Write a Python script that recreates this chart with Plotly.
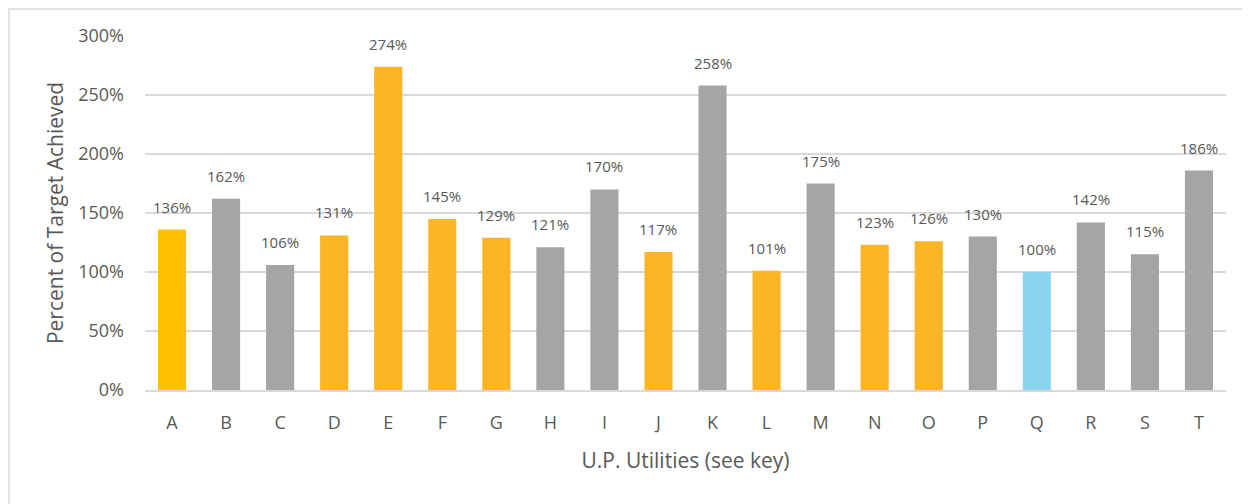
import plotly.graph_objects as go

categories = list("ABCDEFGHIJKLMNOPQRST")
values = [136, 162, 106, 131, 274, 145, 129, 121, 170, 117, 258, 101, 175, 123, 126, 130, 100, 142, 115, 186]
bar_colors = ["#FFC000", "#A5A5A5", "#A5A5A5", "#FDB525", "#FDB525", "#FDB525", "#FDB525",
              "#A5A5A5", "#A5A5A5", "#FDB525", "#A5A5A5", "#FDB525", "#A5A5A5", "#FDB525",
              "#FDB525", "#A5A5A5", "#89D4EE", "#A5A5A5", "#A5A5A5", "#A5A5A5"]
y_ticks = [0, 50, 100, 150, 200, 250, 300]
y_tick_labels = [f"{t}%" for t in y_ticks]
labels = [f"{v}%" for v in values]

FONT = "'Open Sans', sans-serif"
TXT = "#595959"

W, H = 1242, 496  # page has an 8px body margin
L, T = 137, 28
R = W - (1226 - 8)
B = H - (390 - 8)
pw, ph = W - L - R, H - T - B

fig = go.Figure()
fig.add_trace(go.Bar(x=categories, y=values, marker=dict(color=bar_colors, line=dict(width=0)),
                     width=0.52, hoverinfo="x+y"))

for c, v, l in zip(categories, values, labels):
    fig.add_annotation(x=c, y=v, text=l, showarrow=False, yanchor="middle", yshift=23,
                       font=dict(family=FONT, size=15, color=TXT))

fig.add_shape(type="rect", xref="paper", yref="paper",
              x0=(1 - L) / pw, x1=(1235 - L) / pw,
              y0=(H - B - 520) / ph, y1=(H - B - 1) / ph,
              line=dict(color="#D9D9D9", width=1.5), fillcolor="rgba(0,0,0,0)", layer="below")

fig.update_layout(
    width=W, height=H,
    margin=dict(l=L, r=R, t=T, b=B),
    paper_bgcolor="white", plot_bgcolor="white",
    showlegend=False,
    font=dict(family=FONT, color=TXT),
    xaxis=dict(type="category", tickfont=dict(size=18, color=TXT), ticks="", showgrid=False,
               showline=True, linecolor="#D9D9D9", linewidth=1.5,
               title=dict(text="U.P. Utilities (see key)", font=dict(size=21, color=TXT), standoff=20),
               ticklabelstandoff=16),
    yaxis=dict(range=[0, 300], tickvals=y_ticks, ticktext=y_tick_labels, tickfont=dict(size=18, color=TXT),
               showgrid=True, gridcolor="#D9D9D9", gridwidth=1.5, zeroline=False, ticks="",
               ticklabelstandoff=20,
               title=dict(text="Percent of Target Achieved", font=dict(size=21, color=TXT), standoff=8)),
)

fig.write_html("out.html")
